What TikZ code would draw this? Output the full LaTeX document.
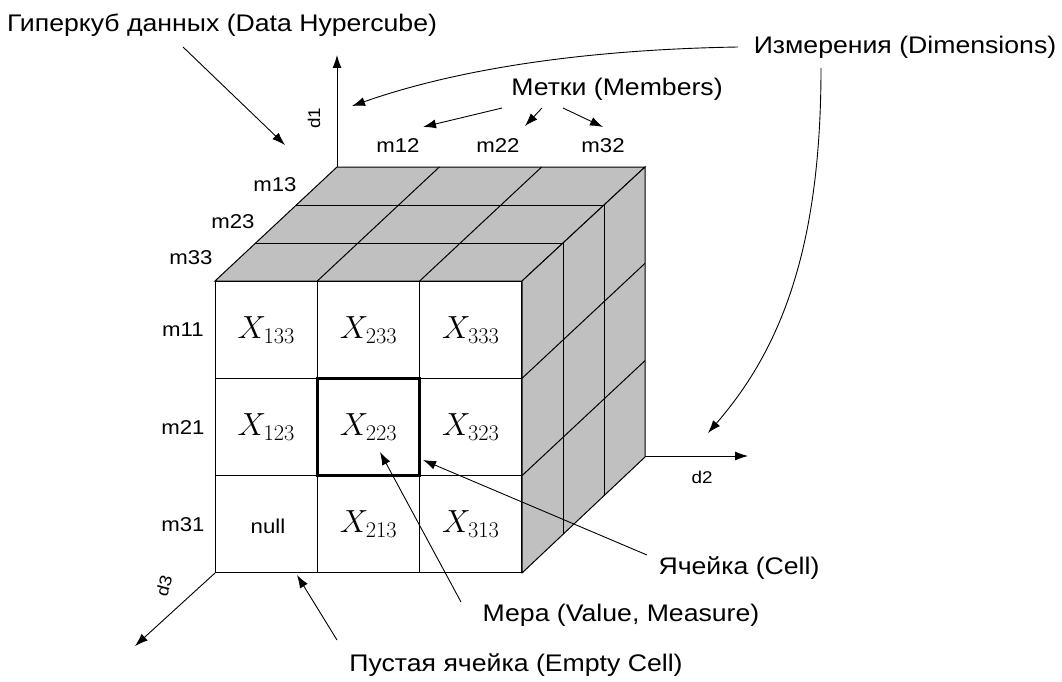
\RequirePackage{fix-cm}
\documentclass[tikz,border=0pt]{standalone}
\usepackage{fontspec}
\setmainfont[FakeStretch=1.11]{Liberation Sans}
\usetikzlibrary{arrows.meta}
\definecolor{cubegray}{RGB}{192,192,192}
\begin{document}
\begin{tikzpicture}[x=1pt,y=-1pt,line width=1pt,
  lbl/.style={font=\fontsize{24}{26}\selectfont, inner sep=0pt},
  mlbl/.style={font=\fontsize{20}{22}\selectfont, inner sep=0pt},
  albl/.style={font=\fontsize{17}{19}\selectfont, inner sep=0pt},
  xl/.style={font=\fontsize{32}{34}\selectfont},
  cell/.style={draw=black, fill=white, minimum width=102.33pt, minimum height=97.33pt, inner sep=0pt, outer sep=0pt},
  arr/.style={-{Latex[length=13pt,width=9pt]}, line width=0.9pt},
  face/.style={fill=cubegray, draw=black, line width=1pt}]
\useasboundingbox (0,0) rectangle (1062,682);
\fill[white] (0,0) rectangle (1062,682);

% top and right faces
\filldraw[face] (215,281) -- (522,281) -- (645,167) -- (337,167) -- cycle;
\filldraw[face] (522,281) -- (645,167) -- (645,457) -- (522,573) -- cycle;
\foreach \k in {1,2} {
  \draw ({215+40.67*\k},{281-38*\k}) -- ({522+41*\k},{281-38*\k});
  \draw ({522+41*\k},{281-38*\k}) -- ({522+41*\k},{573-38.67*\k});
  \draw ({215+102.33*\k},281) -- ++(122,-114);
  \draw (522,{281+97.33*\k}) -- ++(123,-115);
}

% front cells
\node[cell,xl] (c11) at (266.2,329.7) {$X_{133}$};
\node[cell,xl] (c12) at (368.5,329.7) {$X_{233}$};
\node[cell,xl] (c13) at (470.8,329.7) {$X_{333}$};
\node[cell,xl] (c21) at (266.2,427.0) {$X_{123}$};
\node[cell,xl] (c23) at (470.8,427.0) {$X_{323}$};
\node[cell,xl] (c31) at (266.2,524.3) {};
\node[mlbl] (null) at (268,526) {null};
\node[cell,xl] (c32) at (368.5,524.3) {$X_{213}$};
\node[cell,xl] (c33) at (470.8,524.3) {$X_{313}$};
\node[cell,xl,line width=3pt] (c22) at (368.5,427.0) {$X_{223}$};

% axes
\coordinate (o1) at (337,167);
\coordinate (t1) at (337,55);
\coordinate (o2) at (645,456);
\coordinate (t2) at (748,456);
\coordinate (o3) at (215,573);
\coordinate (t3) at (135,646);
\draw[arr] (o1) -- (t1);
\draw[arr] (o2) -- (t2);
\draw[arr] (o3) -- (t3);
\node[albl,rotate=90] (d1) at (314,118) {d1};
\node[albl] (d2) at (702,477) {d2};
\node[albl,rotate=75] (d3) at (164,586) {d3};

% member labels
\node[mlbl] (m12) at (398,146) {m12};
\node[mlbl] (m22) at (498,146) {m22};
\node[mlbl] (m32) at (603,146) {m32};
\node[mlbl] (m13) at (275,185) {m13};
\node[mlbl] (m23) at (233,222) {m23};
\node[mlbl] (m33) at (191,258) {m33};
\node[mlbl] (m11) at (183,330) {m11};
\node[mlbl] (m21) at (183,428) {m21};
\node[mlbl] (m31) at (183,525) {m31};

% callout labels
\node[lbl] (hyper) at (222,25) {Гиперкуб данных (Data Hypercube)};
\node[lbl] (dims) at (905,47) {Измерения (Dimensions)};
\node[lbl] (memb) at (617,89) {Метки (Members)};
\node[lbl] (cellL) at (739,568) {Ячейка (Cell)};
\node[lbl] (meas) at (621,615) {Мера (Value, Measure)};
\node[lbl] (empty) at (516,665) {Пустая ячейка (Empty Cell)};

% callout arrows
\coordinate (hyS) at (183,47);
\coordinate (hyT) at (285,145);
\draw[arr] (hyS) -- (hyT);

\coordinate (dmA) at (738,47);
\coordinate (dmAT) at (352,106);
\draw[arr] (dmA) .. controls (560,50) and (440,75) .. (dmAT);
\coordinate (dmB) at (821,68);
\coordinate (dmBT) at (708,433);
\draw[arr] (dmB) .. controls (821,250) and (780,350) .. (dmBT);

\coordinate (mbA) at (502,108);
\coordinate (mbAT) at (423,127);
\coordinate (mbB) at (542,108);
\coordinate (mbBT) at (525,126);
\coordinate (mbC) at (563,108);
\coordinate (mbCT) at (603,127);
\draw[arr] (mbA) -- (mbAT);
\draw[arr] (mbB) -- (mbBT);
\draw[arr] (mbC) -- (mbCT);

\coordinate (ceS) at (647,555);
\coordinate (ceT) at (423,460);
\draw[arr] (ceS) -- (ceT);
\coordinate (meS) at (461,602);
\coordinate (meT) at (380,452);
\draw[arr] (meS) -- (meT);
\coordinate (emS) at (337,640);
\coordinate (emT) at (297,575);
\draw[arr] (emS) -- (emT);
\end{tikzpicture}
\end{document}
